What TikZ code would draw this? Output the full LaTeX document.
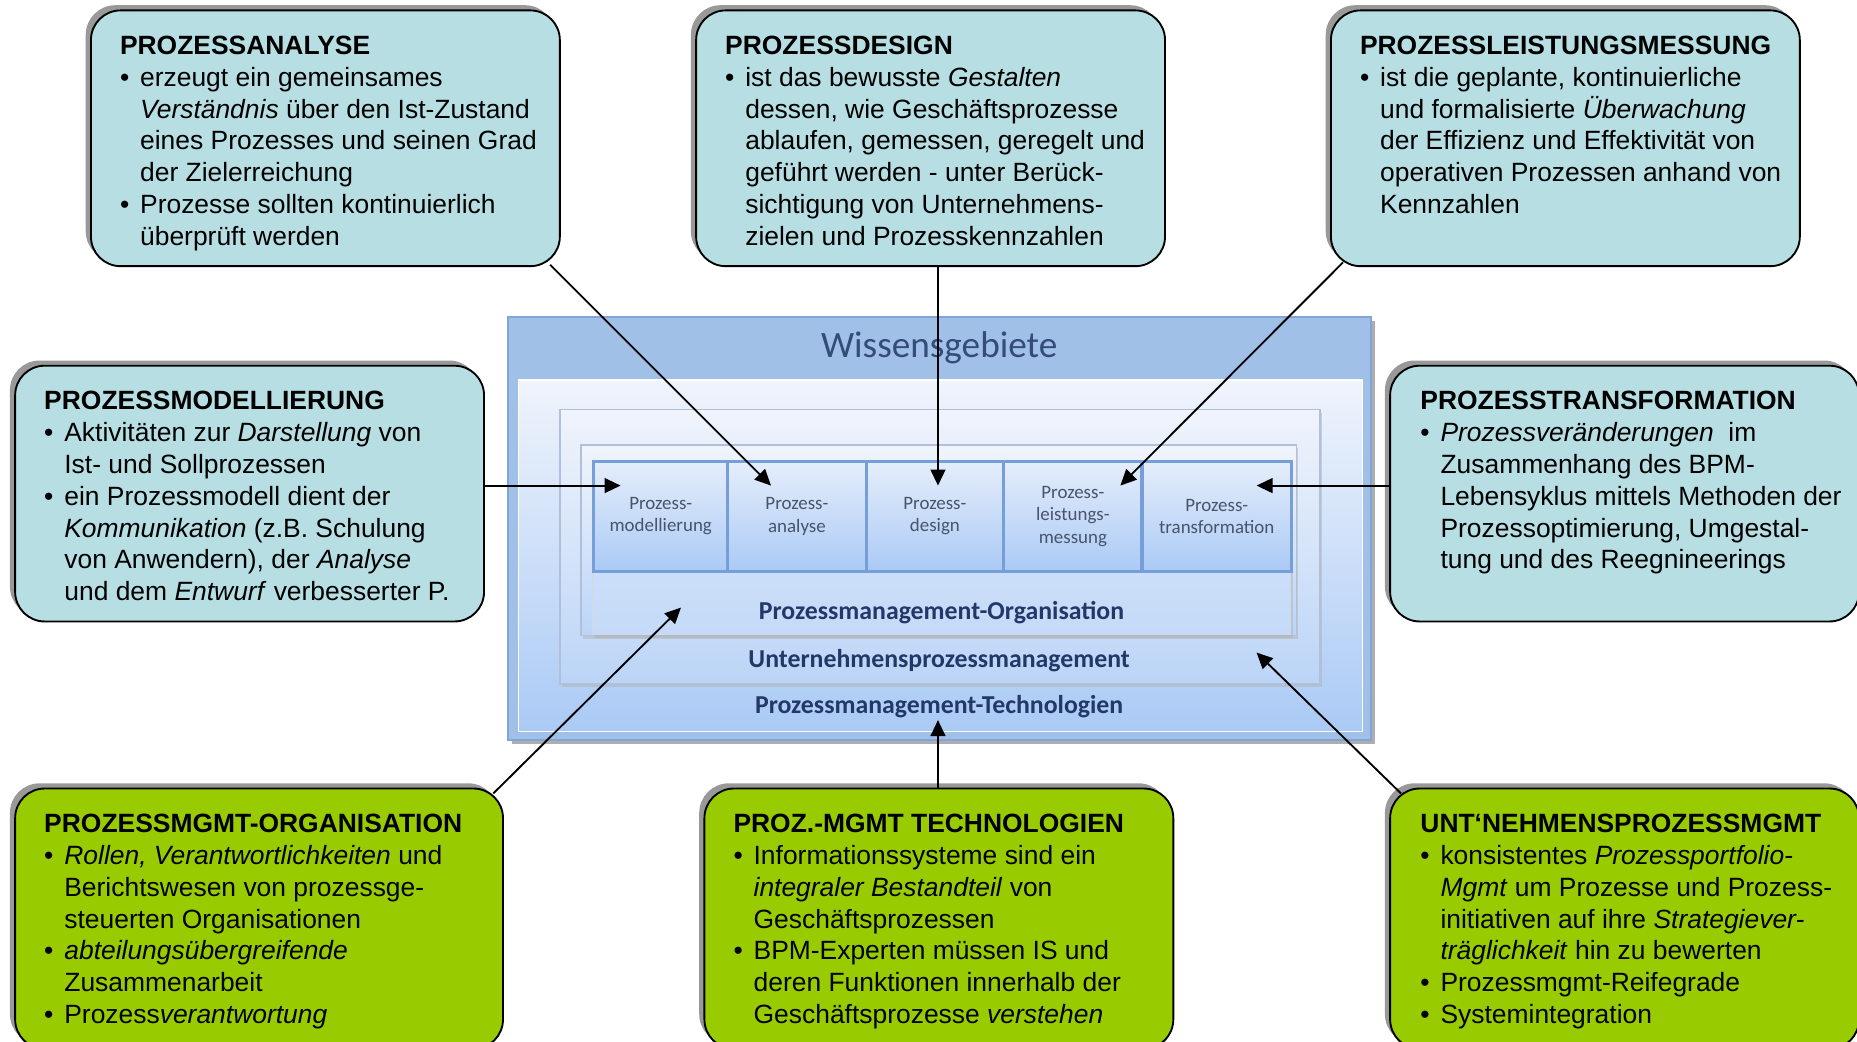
\documentclass[tikz,border=0pt]{standalone}
\usepackage{fontspec}
\setmainfont{Liberation Sans}
\newfontfamily\calfont{Carlito}
\usetikzlibrary{arrows.meta,shadows}

\definecolor{tealfill}{RGB}{183,223,227}
\definecolor{limefill}{RGB}{153,204,0}
\definecolor{bandblue}{RGB}{160,192,232}
\definecolor{bandedge}{RGB}{130,164,214}
\definecolor{paleblue}{RGB}{240,244,252}
\definecolor{skyblue}{RGB}{170,202,245}
\definecolor{frameline}{RGB}{176,192,218}
\definecolor{stageline}{RGB}{118,158,216}
\definecolor{navy}{RGB}{34,56,104}
\definecolor{titleblue}{RGB}{52,76,122}
\definecolor{stagetext}{RGB}{72,84,108}

\newcommand{\bul}{\makebox[0.34cm][l]{\textbullet}}
\newcommand{\ind}{\hspace*{0.34cm}}

\tikzset{
  infobox/.style={draw=black, line width=0.9pt, rounded corners=0.5cm,
    minimum width=7.92cm, minimum height=4.32cm, anchor=north west, inner sep=0pt,
    drop shadow={shadow xshift=-2.5pt, shadow yshift=2.5pt, fill=black!40, opacity=1}},
  bluebox/.style={infobox, fill=tealfill},
  greenbox/.style={infobox, fill=limefill, minimum height=4.4cm},
  infotext/.style={anchor=north west, inner sep=0pt, align=left,
    font=\fontsize{12.7}{15.3}\selectfont},
  outerframe/.style={draw=bandedge, line width=0.8pt, fill=bandblue, anchor=north west,
    inner sep=0pt, drop shadow={shadow xshift=2pt, shadow yshift=-2pt, fill=black!45, opacity=.7}},
  innerarea/.style={draw=white, line width=0.8pt, top color=paleblue, bottom color=skyblue,
    anchor=north west, inner sep=0pt},
  layerframe/.style={draw=frameline, line width=0.8pt, top color=paleblue, bottom color=skyblue!80!white,
    anchor=north west, inner sep=0pt,
    drop shadow={shadow xshift=1pt, shadow yshift=-1.5pt, fill=black!30, opacity=.5}},
  orgband/.style={layerframe, draw=frameline!60!white, top color=paleblue!70!skyblue, bottom color=skyblue!70!white},
  stage/.style={draw=stageline, line width=1.6pt, top color=paleblue!85!skyblue, bottom color=skyblue,
    anchor=north west, minimum height=1.86cm, inner sep=0pt, align=center,
    font=\calfont\fontsize{9.1}{10.8}\selectfont, text=stagetext},
  layerlabel/.style={font=\calfont\bfseries\fontsize{12.4}{14}\selectfont, text=navy},
  wissentitle/.style={font=\calfont\fontsize{17.9}{20}\selectfont, text=titleblue},
  pointer/.style={-{Triangle[length=0.27cm,width=0.25cm]}, line width=0.9pt}
}

\begin{document}
\begin{tikzpicture}[x=0.02cm,y=-0.02cm]
 \useasboundingbox (0,0) rectangle (1568,879);
 \clip (0,0) rectangle (1568,879);

 % Wissensgebiete
 \node[outerframe, minimum width=14.58cm, minimum height=7.14cm] (wissen) at (428,267) {};
 \node[innerarea, minimum width=14.26cm, minimum height=5.94cm] (wissen-in) at (437,320) {};
 \node[wissentitle] (wissen-title) at (793,294) {Wissensgebiete};
 \node[layerframe, minimum width=12.84cm, minimum height=4.64cm] (upm) at (472,345) {};
 \node[layerframe, minimum width=12.08cm, minimum height=3.22cm] (pmo) at (490,375) {};
 \node[orgband, minimum width=11.78cm, minimum height=2.94cm] (pmo-band) at (500,388) {};
 \node[stage, minimum width=2.26cm] (s-modell) at (500,388) {Prozess-\\modellierung};
 \node[stage, minimum width=2.34cm] (s-analyse) at (613,388) {Prozess-\\analyse};
 \node[stage, minimum width=2.32cm] (s-design) at (730,388) {Prozess-\\design};
 \node[stage, minimum width=2.34cm] (s-leistung) at (846,388) {Prozess-\\leistungs-\\messung};
 \node[stage, minimum width=2.52cm] (s-trans) at (963,388) {Prozess-\\transformation};
 \node[layerlabel] (pmo-label) at (795,517) {Prozessmanagement-Organisation};
 \node[layerlabel] (upm-label) at (793,558) {Unternehmensprozessmanagement};
 \node[layerlabel] (pmt-label) at (793,597) {Prozessmanagement-Technologien};

 % Beschreibungen
 \node[bluebox] (analyse) at (76,8) {};
 \node[infotext] (analyse-txt) at ([shift={(25,22)}]analyse.north west)
  {\textbf{PROZESSANALYSE}\\
   \bul erzeugt ein gemeinsames\\
   \ind\textit{Verständnis} über den Ist-Zustand\\
   \ind eines Prozesses und seinen Grad\\
   \ind der Zielerreichung\\
   \bul Prozesse sollten kontinuierlich\\
   \ind überprüft werden};

 \node[bluebox] (design) at (587,8) {};
 \node[infotext] (design-txt) at ([shift={(25,22)}]design.north west)
  {\textbf{PROZESSDESIGN}\\
   \bul ist das bewusste \textit{Gestalten}\\
   \ind dessen, wie Geschäftsprozesse\\
   \ind ablaufen, gemessen, geregelt und\\
   \ind geführt werden - unter Berück-\\
   \ind sichtigung von Unternehmens-\\
   \ind zielen und Prozesskennzahlen};

 \node[bluebox] (leistung) at (1123,8) {};
 \node[infotext] (leistung-txt) at ([shift={(25,22)}]leistung.north west)
  {\textbf{PROZESSLEISTUNGSMESSUNG}\\
   \bul ist die geplante, kontinuierliche\\
   \ind und formalisierte \textit{Überwachung}\\
   \ind der Effizienz und Effektivität von\\
   \ind operativen Prozessen anhand von\\
   \ind Kennzahlen};

 \node[bluebox] (modell) at (12,308) {};
 \node[infotext] (modell-txt) at ([shift={(25,22)}]modell.north west)
  {\textbf{PROZESSMODELLIERUNG}\\
   \bul Aktivitäten zur \textit{Darstellung} von\\
   \ind Ist- und Sollprozessen\\
   \bul ein Prozessmodell dient der\\
   \ind\textit{Kommunikation} (z.B. Schulung\\
   \ind von Anwendern), der \textit{Analyse}\\
   \ind und dem \textit{Entwurf} verbesserter P.};

 \node[bluebox] (trans) at (1173,308) {};
 \node[infotext] (trans-txt) at ([shift={(26,22)}]trans.north west)
  {\textbf{PROZESSTRANSFORMATION}\\
   \bul\textit{Prozessveränderungen}\ \ im\\
   \ind Zusammenhang des BPM-\\
   \ind Lebensyklus mittels Methoden der\\
   \ind Prozessoptimierung, Umgestal-\\
   \ind tung und des Reegnineerings};

 \node[greenbox, minimum width=8.24cm] (orga) at (12,665) {};
 \node[infotext] (orga-txt) at ([shift={(25,22)}]orga.north west)
  {\textbf{PROZESSMGMT-ORGANISATION}\\
   \bul\textit{Rollen, Verantwortlichkeiten} und\\
   \ind Berichtswesen von prozessge-\\
   \ind steuerten Organisationen\\
   \bul\textit{abteilungsübergreifende}\\
   \ind Zusammenarbeit\\
   \bul Prozess\textit{verantwortung}};

 \node[greenbox] (techno) at (594,665) {};
 \node[infotext] (techno-txt) at ([shift={(25,22)}]techno.north west)
  {\textbf{PROZ.-MGMT TECHNOLOGIEN}\\
   \bul Informationssysteme sind ein\\
   \ind\textit{integraler Bestandteil} von\\
   \ind Geschäftsprozessen\\
   \bul BPM-Experten müssen IS und\\
   \ind deren Funktionen innerhalb der\\
   \ind Geschäftsprozesse \textit{verstehen}};

 \node[greenbox] (unternehmen) at (1173,665) {};
 \node[infotext] (unternehmen-txt) at ([shift={(26,22)}]unternehmen.north west)
  {\textbf{UNT‘NEHMENSPROZESSMGMT}\\
   \bul konsistentes \textit{Prozessportfolio-}\\
   \ind\textit{Mgmt} um Prozesse und Prozess-\\
   \ind initiativen auf ihre \textit{Strategiever-}\\
   \ind\textit{träglichkeit} hin zu bewerten\\
   \bul Prozessmgmt-Reifegrade\\
   \bul Systemintegration};

 % Pfeile
 \coordinate (t-modell) at (524,410);
 \coordinate (t-analyse) at (651,410);
 \coordinate (t-design) at (792,410);
 \coordinate (t-leistung) at (946,410);
 \coordinate (t-trans) at (1061,410);
 \coordinate (t-orga) at (575,513);
 \coordinate (t-techno) at (792,608);
 \coordinate (t-unternehmen) at (1061,551);
 \draw[pointer] ([shift={(-9,-2)}]analyse.south east) -- (t-analyse);
 \draw[pointer] (design.south -| t-design) -- (t-design);
 \draw[pointer] ([shift={(11,-4)}]leistung.south west) -- (t-leistung);
 \draw[pointer] (modell.east |- t-modell) -- (t-modell);
 \draw[pointer] (trans.west |- t-trans) -- (t-trans);
 \draw[pointer] ([shift={(-9,5)}]orga.north east) -- (t-orga);
 \draw[pointer] (techno.north -| t-techno) -- (t-techno);
 \draw[pointer] ([shift={(10,5)}]unternehmen.north west) -- (t-unternehmen);
\end{tikzpicture}
\end{document}
